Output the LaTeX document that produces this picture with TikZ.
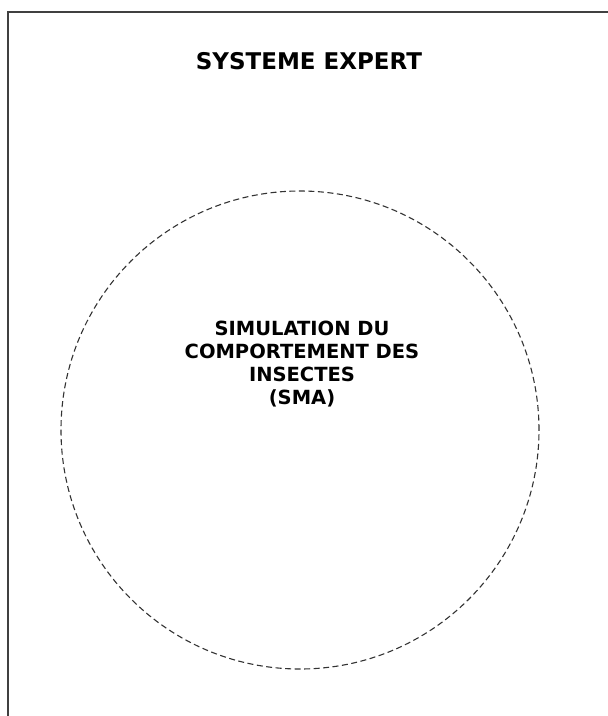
\documentclass[tikz,border=0pt]{standalone}
\usepackage{fontspec}
\setmainfont{DejaVu Sans}
\begin{document}
\begin{tikzpicture}[x=1pt,y=-1pt,
  frameline/.style={draw=black!75,line width=1.6pt},
  zone/.style={draw=black!80,line width=1.1pt,dash pattern=on 6pt off 3.5pt},
  titletext/.style={font=\fontsize{23}{27}\selectfont\bfseries,align=center},
  innertext/.style={font=\fontsize{19.5}{23}\selectfont\bfseries,align=center}]
\useasboundingbox (0,0) rectangle (608,716);
\coordinate (tl) at (8,12);
\coordinate (tr) at (608,12);
\coordinate (bl) at (8,716);
\draw[frameline] (tr) -- (tl) -- (bl);
\node[titletext] (title) at (309,61) {SYSTEME EXPERT};
\node[zone,circle,minimum size=478pt,inner sep=0pt] (sma) at (300,430) {};
\node[innertext] (smatext) at (302,364) {SIMULATION DU\\COMPORTEMENT DES\\INSECTES\\(SMA)};
\end{tikzpicture}
\end{document}
